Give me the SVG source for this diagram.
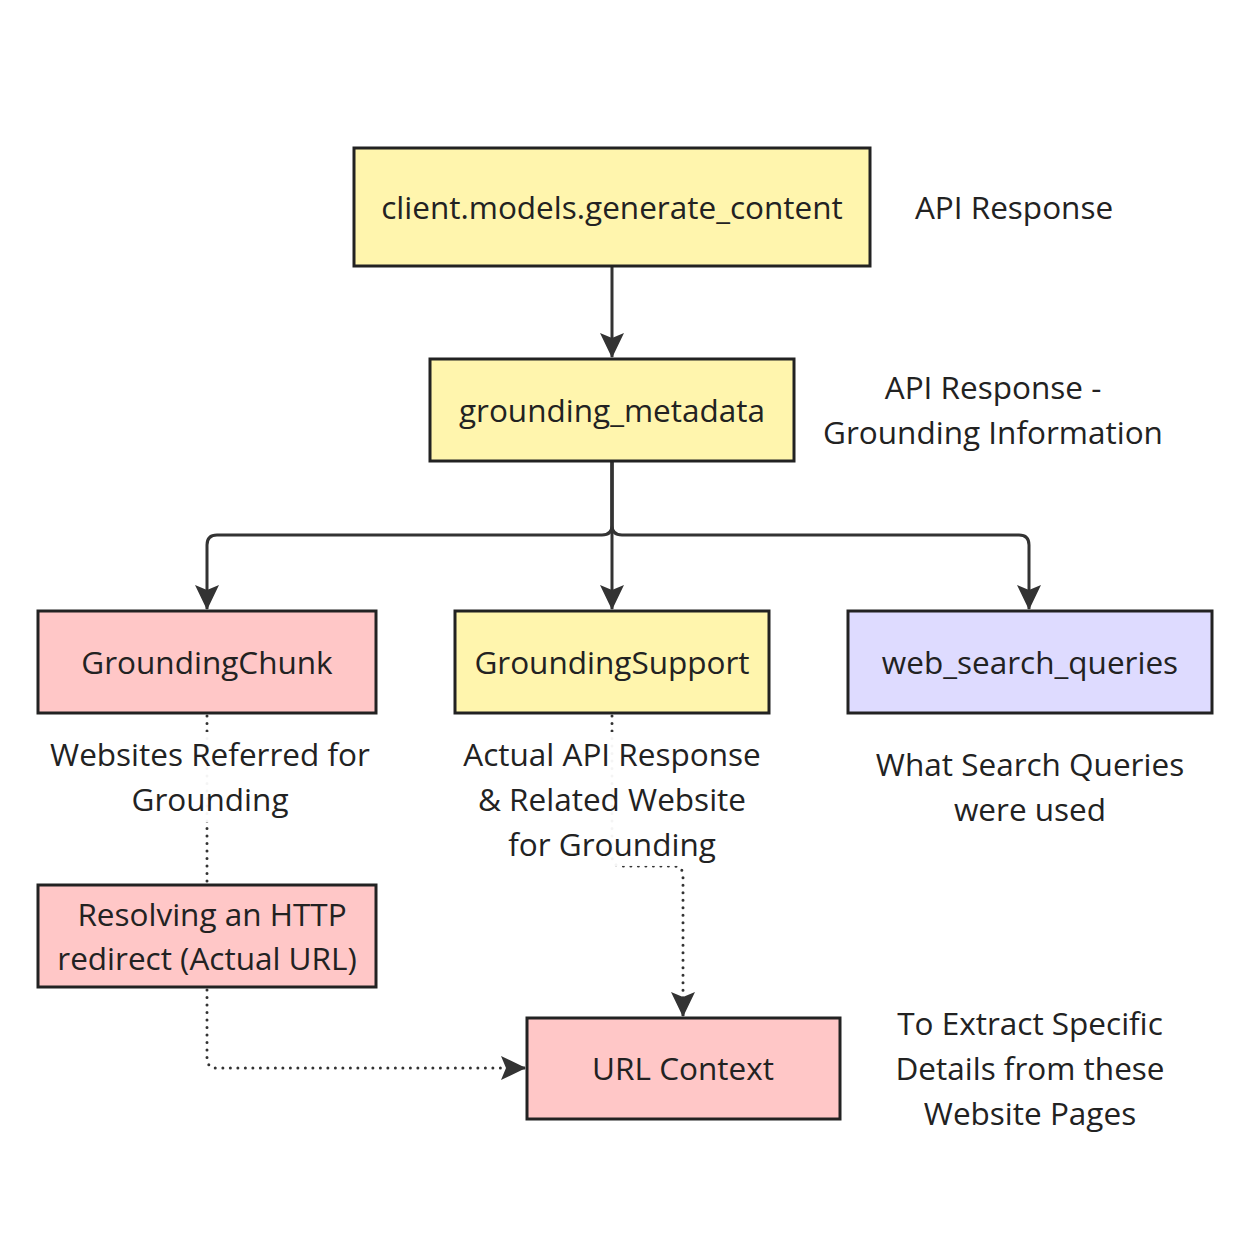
<svg xmlns="http://www.w3.org/2000/svg" width="1249" height="1249" viewBox="0 0 1249 1249">
<style>
.node rect{stroke:#222;stroke-width:3}
.y{fill:#fff5ad}.p{fill:#ffc7c7}.v{fill:#dedbff}
text{font-family:"Open Sans","Noto Sans",sans-serif;font-size:31.5px;fill:#222;text-anchor:middle;dominant-baseline:central}
.e{fill:none;stroke:#333;stroke-width:3}
.d{fill:none;stroke:#333;stroke-width:3;stroke-dasharray:0 7.5;stroke-linecap:round}
.lbl{fill:#fff;opacity:0.95}
</style>
<defs>
<marker id="ah" markerUnits="userSpaceOnUse" markerWidth="26" markerHeight="26" viewBox="0 0 26 26" refX="24" refY="13" orient="auto">
<path d="M0,1 L25,13 L0,25 L5,13 z" fill="#333"/>
</marker>
</defs>
<rect width="1249" height="1249" fill="#fff"/>
<g id="connectors">
<path class="e" d="M612,266 L612,357" marker-end="url(#ah)"/>
<path class="e" d="M612,461 L612,609" marker-end="url(#ah)"/>
<path class="e" d="M612,461 L612,525 Q612,535 602,535 L217,535 Q207,535 207,545 L207,609" marker-end="url(#ah)"/>
<path class="e" d="M612,461 L612,525 Q612,535 622,535 L1019,535 Q1029,535 1029,545 L1029,609" marker-end="url(#ah)"/>
<path class="d" d="M207,716 L207,883"/>
<path class="d" d="M612,716 L612,856 Q612,866 622,866 L673,866 Q683,866 683,876 L683,1004"/>
<path class="e" d="M683,1004 L683,1016" marker-end="url(#ah)"/>
<path class="d" d="M207,990 L207,1058 Q207,1068 217,1068 L512,1068"/>
<path class="e" d="M512,1068 L525,1068" marker-end="url(#ah)"/>
</g>
<g id="label-chunk">
<rect class="lbl" x="44" y="732" width="334" height="90"/>
<text x="210" y="753">Websites Referred for</text>
<text x="210" y="798">Grounding</text>
</g>
<g id="label-support">
<rect class="lbl" x="456" y="732" width="312" height="134"/>
<text x="612" y="753">Actual API Response</text>
<text x="612" y="798">&amp; Related Website</text>
<text x="612" y="843">for Grounding</text>
</g>
<g id="n-client" class="node"><rect class="y" x="354" y="148" width="516" height="118"/><text x="612" y="206">client.models.generate_content</text></g>
<g id="n-meta" class="node"><rect class="y" x="430" y="359" width="364" height="102"/><text x="612" y="409">grounding_metadata</text></g>
<g id="n-chunk" class="node"><rect class="p" x="38" y="611" width="338" height="102"/><text x="207" y="661">GroundingChunk</text></g>
<g id="n-support" class="node"><rect class="y" x="455" y="611" width="314" height="102"/><text x="612" y="661">GroundingSupport</text></g>
<g id="n-web" class="node"><rect class="v" x="848" y="611" width="364" height="102"/><text x="1030" y="661">web_search_queries</text></g>
<g id="n-resolve" class="node"><rect class="p" x="38" y="885" width="338" height="102"/><text x="212" y="913">Resolving an HTTP</text><text x="207" y="957">redirect (Actual URL)</text></g>
<g id="n-url" class="node"><rect class="p" x="527" y="1018" width="313" height="101"/><text x="683" y="1067">URL Context</text></g>
<g id="notes">
<text x="1014" y="206">API Response</text>
<text x="993" y="386">API Response -</text>
<text x="993" y="431">Grounding Information</text>
<text x="1030" y="763">What Search Queries</text>
<text x="1030" y="808">were used</text>
<text x="1030" y="1022">To Extract Specific</text>
<text x="1030" y="1067">Details from these</text>
<text x="1030" y="1112">Website Pages</text>
</g>
</svg>
